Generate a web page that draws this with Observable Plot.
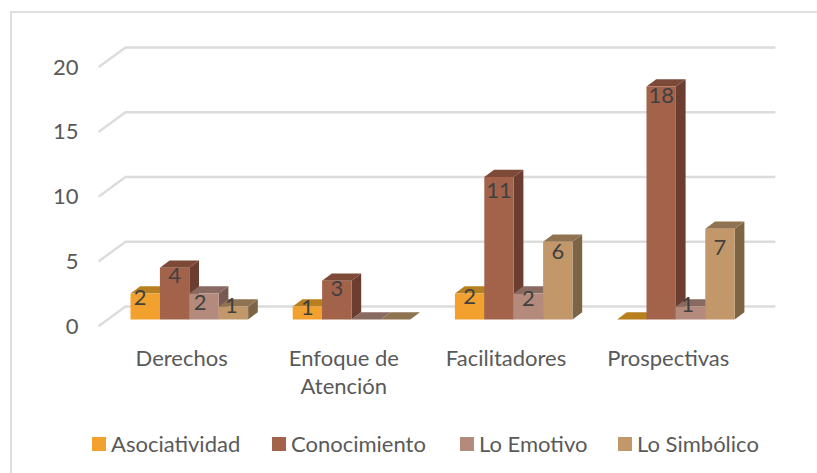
<!DOCTYPE html>
<html><head><meta charset="utf-8">
<script src="https://cdn.jsdelivr.net/npm/d3@7"></script>
<script src="https://cdn.jsdelivr.net/npm/@observablehq/plot@0.6"></script>
<style>
html,body{margin:0;padding:0;background:#fff;overflow:hidden}
#frame{position:absolute;left:10px;top:11px;right:0;bottom:0;border-left:2px solid #dedede;border-top:2px solid #dedede}
#chart{position:absolute;left:0;top:0}
#chart svg{display:block;background:transparent}
#legend{position:absolute;left:92px;top:430px;display:flex;font:22px Lato,sans-serif;color:#595959;line-height:28px}
#legend span.i{display:flex;align-items:center;position:absolute;white-space:nowrap}
#legend i{display:inline-block;width:14px;height:14px;margin-right:5px}
</style></head><body>
<div id="frame"></div>
<div id="chart"></div>
<div id="legend"></div>
<script>
const categories = ["Derechos", "Enfoque de\nAtención", "Facilitadores", "Prospectivas"];
const seriesNames = ["Asociatividad", "Conocimiento", "Lo Emotivo", "Lo Simbólico"];
const asociatividad = [2, 1, 2, 0];
const conocimiento = [4, 3, 11, 18];
const loEmotivo = [2, 0, 2, 1];
const loSimbolico = [1, 0, 6, 7];
const axisTicks = [0, 5, 10, 15, 20];
const seriesValues = [asociatividad, conocimiento, loEmotivo, loSimbolico];

// Styling per series: front, top, side
const front = ["#F2A12E", "#A3634B", "#B38A7C", "#C2986B"];
const topFace = ["#B87F1E", "#7D4A38", "#886A60", "#8F7350"];
const sideFace = ["#A8701A", "#6B3E31", "#775B52", "#7D6445"];

// 3D layout, in scale units
const groupStep = 5.517, barW = 1, depthX = 0.33, depthY = 0.56;
const wallX = -0.17, floorX = -1.054, endX = 21.9, wallY = 1, floorY = -0.46;

const bars = [];
categories.forEach((c, ci) => seriesNames.forEach((s, si) => {
  bars.push({ci, si, v: seriesValues[si][ci], x0: ci * groupStep + si * barW});
}));

const poly = (pts, id, color) => pts.map(([x, y]) => ({x, y, id, color}));
const faces = [];
bars.forEach((b, n) => {
  const {x0, v, si} = b, x1 = x0 + barW;
  if (v > 0) faces.push(...poly([[x1, 0], [x1 + depthX, depthY], [x1 + depthX, v + depthY], [x1, v], [x1, 0]], `s${n}`, sideFace[si]));
  faces.push(...poly([[x0, v], [x0 + depthX, v + depthY], [x1 + depthX, v + depthY], [x1, v], [x0, v]], `t${n}`, topFace[si]));
  if (v > 0) faces.push(...poly([[x0, 0], [x0, v], [x1, v], [x1, 0], [x0, 0]], `f${n}`, front[si]));
});

const grid = axisTicks.flatMap(t => [
  {x: floorX, y: t + floorY, t}, {x: wallX, y: t + wallY, t}, {x: endX, y: t + wallY, t}
]);

// Label nudges (px), by category then series
const nudgeX = [[-5,0,-4,-2],[0,0,0,0],[0,0,0,0],[0,0,-3,0]];
const nudgeY = [[4,8,9,-1],[1,8,0,0],[3,14,5,10],[0,10,-2,19]];
const labels = bars.filter(b => b.v > 0);

const chart = Plot.plot({
  width: 817, height: 428,
  margin: 0,
  x: {axis: null, domain: [0, 20], range: [130, 718]},
  y: {axis: null, domain: [0, 20], range: [319, 60]},
  marks: [
    Plot.line(grid, {x: "x", y: "y", z: "t", stroke: "#dcdcdc", strokeWidth: 2.4}),
    Plot.line(faces, {x: "x", y: "y", z: "id", fill: "color", stroke: "none"}),
    ...labels.map(b => Plot.text([b], {
      x: d => d.x0 + barW / 2, y: "v", text: d => String(d.v),
      dx: nudgeX[b.ci][b.si], dy: nudgeY[b.ci][b.si],
      fontSize: 22, fontFamily: "Lato, sans-serif", fill: "#404040", textAnchor: "middle"
    })),
    Plot.text(axisTicks, {
      x: floorX, y: t => t + floorY, text: d => String(d), dx: -21, dy: 1,
      textAnchor: "end", fontSize: 22, fontFamily: "Lato, sans-serif", fill: "#595959"
    }),
    Plot.text(categories, {
      x: (d, i) => i * groupStep + 1.74, y: -2.05, text: d => d, lineAnchor: "top", lineHeight: 1.27,
      fontSize: 22, fontFamily: "Lato, sans-serif", fill: "#595959", textAnchor: "middle"
    })
  ]
});
document.getElementById("chart").append(chart);

const legendLeft = [0, 180, 368, 526];
const legend = document.getElementById("legend");
seriesNames.forEach((s, i) => {
  const el = document.createElement("span");
  el.className = "i"; el.style.left = legendLeft[i] + "px";
  el.innerHTML = `<i style="background:${front[i]}"></i>${s}`;
  legend.append(el);
});
</script>
</body></html>
